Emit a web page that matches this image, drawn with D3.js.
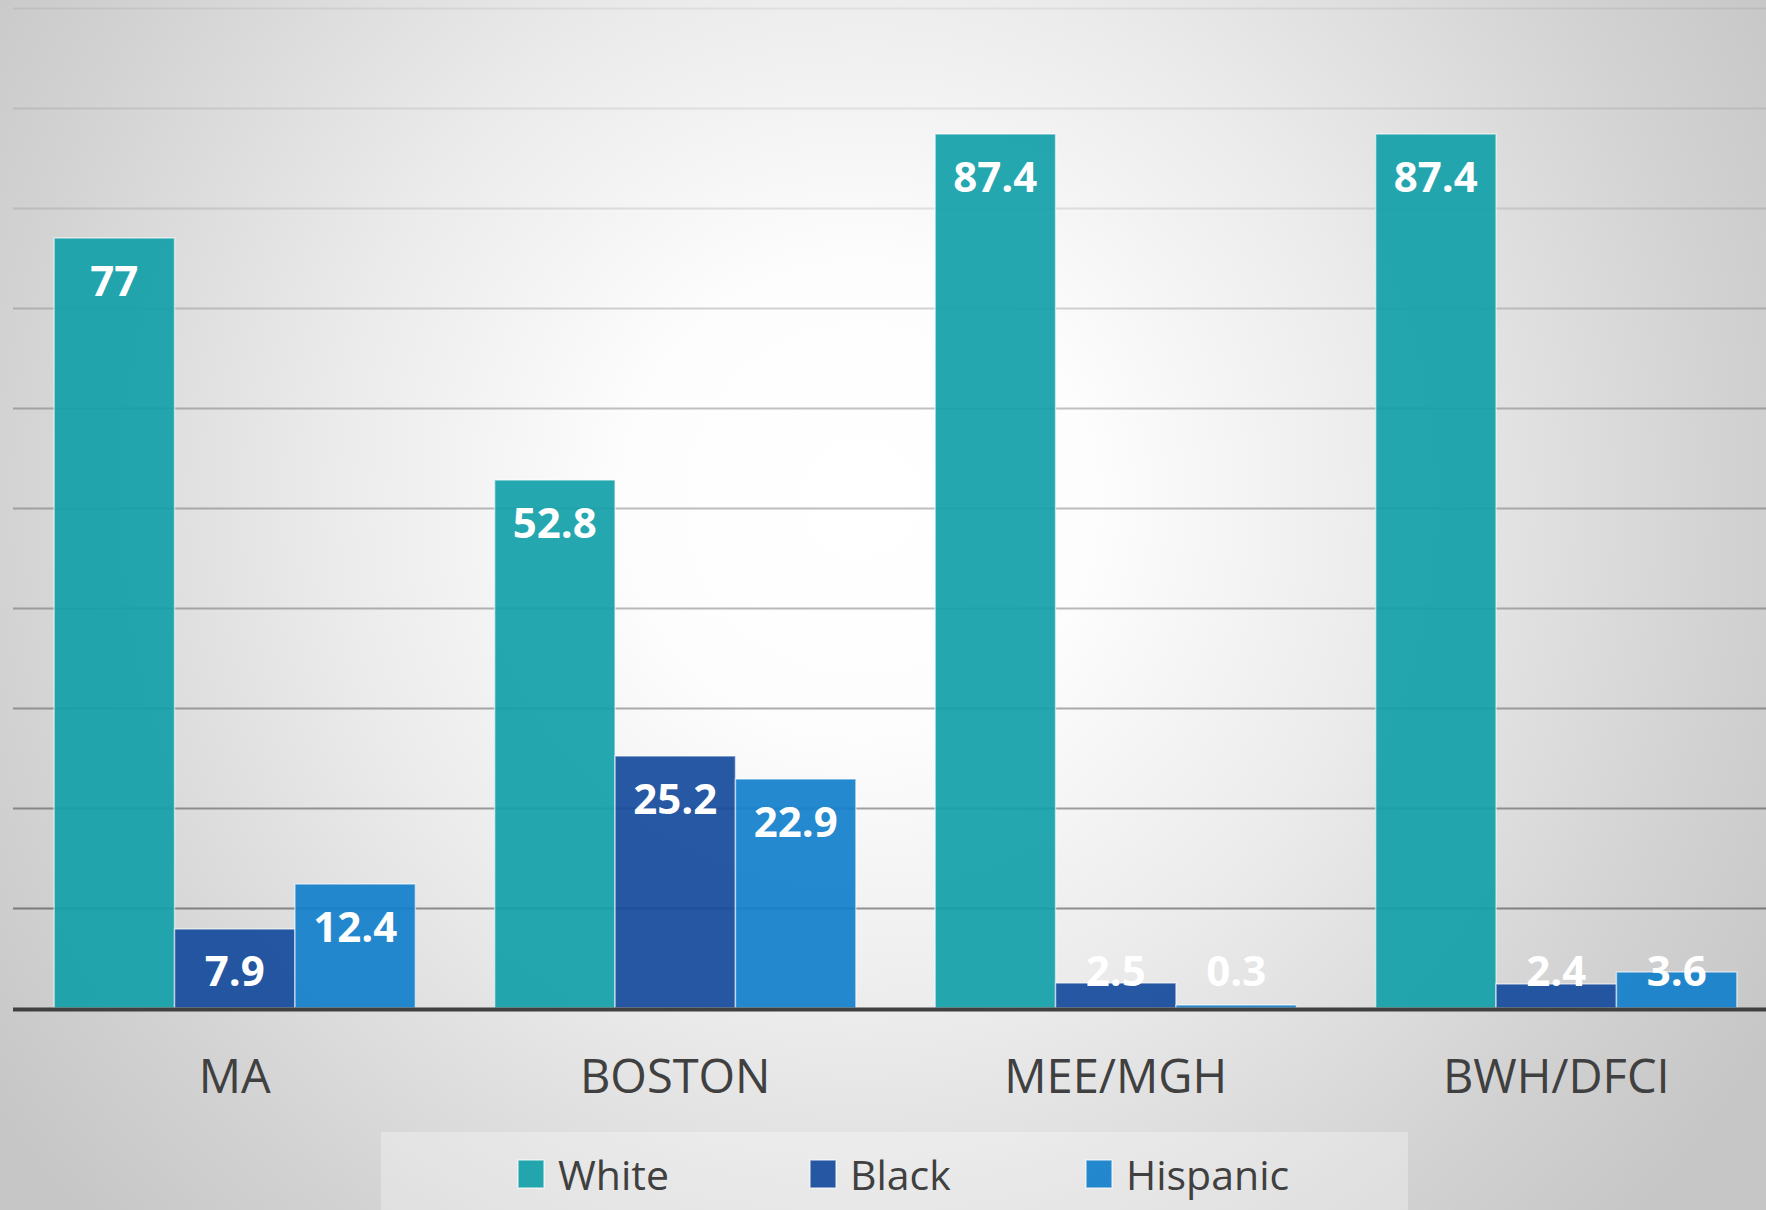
<!DOCTYPE html>
<html>
<head>
<meta charset="utf-8">
<script src="https://cdn.jsdelivr.net/npm/d3@7"></script>
<style>
  html, body { margin: 0; padding: 0; background: #fff; }
  svg { display: block; font-family: "Open Sans", "Noto Sans", sans-serif; }
</style>
</head>
<body>
<svg id="chart"></svg>
<script>
// Chart data
const categories = ['MA', 'BOSTON', 'MEE/MGH', 'BWH/DFCI'];
const seriesNames = ['White', 'Black', 'Hispanic'];
const whiteValues = [77, 52.8, 87.4, 87.4];
const blackValues = [7.9, 25.2, 2.5, 2.4];
const hispanicValues = [12.4, 22.9, 0.3, 3.6];
const seriesColors = ['#12a0a9', '#154a9c', '#127fcb'];

const width = 1766, height = 1210;

const svg = d3.select('#chart')
  .attr('width', width)
  .attr('height', height);

const defs = svg.append('defs');

// background radial shading
const bg = defs.append('radialGradient')
  .attr('id', 'bg')
  .attr('gradientUnits', 'userSpaceOnUse')
  .attr('cx', 860).attr('cy', 500).attr('r', 1060);
[[0, '#ffffff'], [0.22, '#fdfdfd'], [0.5, '#ebebeb'], [0.82, '#d2d2d2'], [1, '#c6c6c6']]
  .forEach(s => bg.append('stop').attr('offset', s[0]).attr('stop-color', s[1]));

svg.append('rect')
  .attr('width', width).attr('height', height)
  .attr('fill', 'url(#bg)');

const margin = {left: 13, right: -9};
const y0 = 1008, yTop = 8;

const x = d3.scaleBand()
  .domain(categories)
  .range([margin.left + 1.5, width - margin.right + 1.5])
  .paddingInner(0.18)
  .paddingOuter(0.09);

const xSub = d3.scaleBand()
  .domain(seriesNames)
  .range([0, x.bandwidth()]);

const y = d3.scaleLinear()
  .domain([0, 100])
  .range([y0, yTop]);

const color = d3.scaleOrdinal()
  .domain(seriesNames)
  .range(seriesColors);

// gridlines, darker toward the baseline
const gridAlpha = d3.scaleLinear()
  .domain([100, 80, 60, 40, 10])
  .range([0.06, 0.1, 0.24, 0.27, 0.4]);

const grid = svg.append('g')
  .attr('transform', `translate(${margin.left},0)`)
  .call(d3.axisLeft(y).tickValues(d3.range(10, 101, 10)).tickSize(-(width - margin.left)).tickFormat(''));
grid.select('.domain').remove();
grid.selectAll('.tick line')
  .attr('stroke', d => `rgba(0,0,0,${gridAlpha(d)})`)
  .attr('stroke-width', 2);

// bars
const rows = categories.map((c, i) => ({
  category: c,
  values: [whiteValues[i], blackValues[i], hispanicValues[i]].map((v, j) => ({key: seriesNames[j], value: v}))
}));

const groups = svg.append('g').selectAll('.group')
  .data(rows)
  .join('g')
  .attr('class', 'group')
  .attr('transform', d => `translate(${x(d.category)},0)`);

groups.selectAll('rect')
  .data(d => d.values)
  .join('rect')
  .attr('x', d => xSub(d.key))
  .attr('width', xSub.bandwidth())
  .attr('y', d => y(d.value))
  .attr('height', d => y0 - y(d.value))
  .attr('fill', d => color(d.key))
  .attr('fill-opacity', 0.92)
  .attr('stroke', 'rgba(255,255,255,0.55)')
  .attr('stroke-width', 1.5);

// value labels (inside end, clamped above the axis)
groups.selectAll('text')
  .data(d => d.values)
  .join('text')
  .attr('x', d => xSub(d.key) + xSub.bandwidth() / 2)
  .attr('y', d => Math.min(y(d.value) + 58, 986))
  .attr('text-anchor', 'middle')
  .attr('fill', '#fff')
  .attr('font-weight', 700)
  .attr('font-size', 42)
  .text(d => d.value);

// category axis
const xAxisG = svg.append('g')
  .attr('transform', `translate(0,${y0})`)
  .call(d3.axisBottom(x).tickSize(0).tickPadding(52));
xAxisG.select('.domain').remove();
xAxisG.selectAll('text')
  .attr('font-family', '"Open Sans", sans-serif')
  .attr('font-size', 47)
  .attr('fill', '#404040');

svg.append('line')
  .attr('x1', margin.left).attr('x2', width)
  .attr('y1', y0 + 1.5).attr('y2', y0 + 1.5)
  .attr('stroke', '#404040')
  .attr('stroke-width', 4);

// legend
const legend = svg.append('g');
legend.append('rect')
  .attr('x', 381).attr('y', 1132)
  .attr('width', 1027).attr('height', 80)
  .attr('fill', '#ffffff').attr('fill-opacity', 0.3);

const legendX = [518, 810, 1086];
const items = legend.selectAll('.item')
  .data(seriesNames)
  .join('g')
  .attr('class', 'item')
  .attr('transform', (d, i) => `translate(${legendX[i]},1160)`);
items.append('rect')
  .attr('width', 26).attr('height', 28)
  .attr('fill', d => color(d))
  .attr('fill-opacity', 0.92)
  .attr('stroke', 'rgba(255,255,255,0.6)')
  .attr('stroke-width', 1.5);
items.append('text')
  .attr('x', 40).attr('y', 30)
  .attr('font-size', 41)
  .attr('fill', '#404040')
  .text(d => d);
</script>
</body>
</html>
